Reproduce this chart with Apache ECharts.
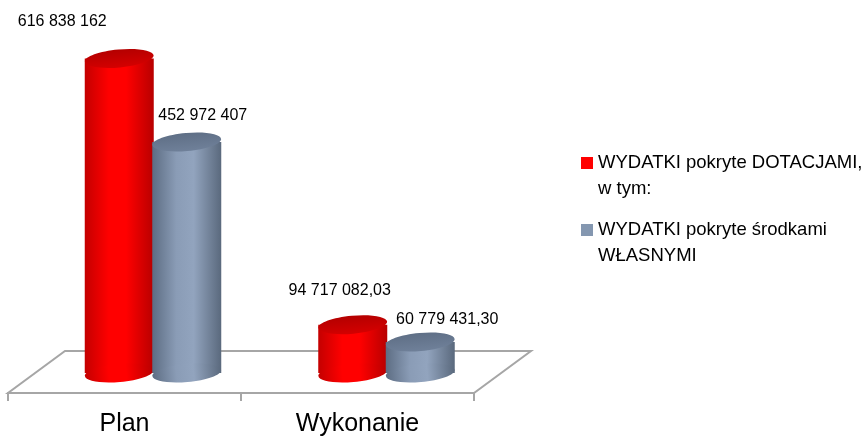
<!DOCTYPE html>
<html>
<head>
<meta charset="utf-8">
<script src="https://cdn.jsdelivr.net/npm/echarts@6/dist/echarts.min.js"></script>
<style>
  html, body { margin: 0; padding: 0; background: #fff; }
  #main { width: 866px; height: 440px; }
</style>
</head>
<body>
<div id="main"></div>
<script>
const myChart = echarts.init(document.querySelector('#main'))

const categories = ['Plan', 'Wykonanie']
const seriesNames = ['WYDATKI pokryte DOTACJAMI, w tym:', 'WYDATKI pokryte środkami WŁASNYMI']
const dotacje = [616838162, 94717082.03]
const wlasne = [452972407, 60779431.30]

const FONT = 'Liberation Sans'

// label nudges (dx from cylinder axis, dy from top ellipse), per series / category
const labelShift = [
  [[-57, -37], [-13, -34]],
  [[16, -26], [27, -22]]
]

function fmt(v) {
  const isInt = Number.isInteger(v)
  let parts = v.toFixed(isInt ? 0 : 2).split('.')
  let i = parts[0].replace(/\B(?=(\d{3})+(?!\d))/g, ' ')
  return parts[1] ? i + ',' + parts[1] : i
}

const looks = [
  {
    side: ['#c40000', '#ff0000', '#ff0000', '#b80000'],
    top: ['#b40000', '#d40000']
  },
  {
    side: ['#5d6d83', '#8a9cb6', '#92a4be', '#5a697d'],
    top: ['#5f6f86', '#6f8099']
  }
]

function cylinder(idx, shift) {
  const look = looks[idx]
  return function (params, api) {
    const cat = api.value(0)
    const val = api.value(1)
    const top = api.coord([cat, val])
    const base = api.coord([cat, 0])
    const rx = 34.5, ry = 9, rot = 0.09
    const cx = top[0] + shift
    const sideFill = new echarts.graphic.LinearGradient(0, 0, 1, 0, [
      { offset: 0, color: look.side[0] },
      { offset: 0.35, color: look.side[1] },
      { offset: 0.6, color: look.side[2] },
      { offset: 1, color: look.side[3] }
    ])
    const topFill = new echarts.graphic.LinearGradient(0, 0, 0, 1, [
      { offset: 0, color: look.top[0] },
      { offset: 1, color: look.top[1] }
    ])
    const sh = labelShift[idx][cat]
    return {
      type: 'group',
      children: [
        {
          type: 'rect',
          shape: { x: cx - rx, y: top[1], width: rx * 2, height: base[1] - top[1] },
          style: { fill: sideFill }
        },
        {
          type: 'ellipse',
          shape: { cx: cx, cy: base[1], rx: rx, ry: ry },
          originX: cx, originY: base[1], rotation: rot,
          style: { fill: sideFill }
        },
        {
          type: 'ellipse',
          shape: { cx: cx, cy: top[1], rx: rx, ry: ry },
          originX: cx, originY: top[1], rotation: rot,
          style: { fill: topFill }
        },
        {
          type: 'text',
          style: {
            text: fmt(val),
            x: cx + sh[0], y: top[1] + sh[1],
            align: 'center', verticalAlign: 'middle',
            fill: '#000', font: '16px "' + FONT + '"'
          }
        }
      ]
    }
  }
}

// blank first line keeps the square level with the first text line
function legendFor(name, topPx) {
  return {
    data: [name],
    orient: 'vertical',
    left: 581,
    top: topPx,
    padding: 0,
    icon: 'rect',
    itemWidth: 12,
    itemHeight: 12,
    itemGap: 0,
    selectedMode: false,
    formatter: function (n) {
      return n === seriesNames[0] ? ' \nWYDATKI pokryte DOTACJAMI,\nw tym:' : ' \nWYDATKI pokryte środkami\nWŁASNYMI'
    },
    textStyle: {
      fontFamily: FONT, fontSize: 18.5, color: '#000', lineHeight: 26
    }
  }
}

const option = {
  animation: false,
  grid: [
    { left: 36, right: 363, top: 16, bottom: 67 },
    { left: 8, right: 392, top: 16, bottom: 47 }
  ],
  xAxis: [
    { type: 'category', data: categories, gridIndex: 0, show: false },
    {
      type: 'category', data: categories, gridIndex: 1,
      axisLine: { lineStyle: { color: '#a6a6a6', width: 2 } },
      axisTick: { show: true, length: 8, interval: 0, lineStyle: { color: '#a6a6a6', width: 2 } },
      axisLabel: { fontFamily: FONT, fontSize: 25, color: '#000', margin: 19 }
    }
  ],
  yAxis: [
    { type: 'value', gridIndex: 0, min: 0, max: 700000000, show: false },
    { type: 'value', gridIndex: 1, show: false }
  ],
  legend: [
    legendFor(seriesNames[0], 124),
    legendFor(seriesNames[1], 191)
  ],
  graphic: [
    {
      type: 'polygon',
      z: -1,
      shape: { points: [[8, 393], [474, 393], [531, 351], [65, 351]] },
      style: { fill: '#fff', stroke: '#a6a6a6', lineWidth: 2 }
    }
  ],
  series: [
    {
      name: seriesNames[0],
      type: 'custom',
      xAxisIndex: 0, yAxisIndex: 0,
      itemStyle: { color: '#ff0000' },
      renderItem: cylinder(0, -33.5),
      data: dotacje.map((v, i) => [i, v]),
      z: 2
    },
    {
      name: seriesNames[1],
      type: 'custom',
      xAxisIndex: 0, yAxisIndex: 0,
      itemStyle: { color: '#8497b0' },
      renderItem: cylinder(1, 34),
      data: wlasne.map((v, i) => [i, v]),
      z: 3
    }
  ]
}

myChart.setOption(option)
</script>
</body>
</html>
